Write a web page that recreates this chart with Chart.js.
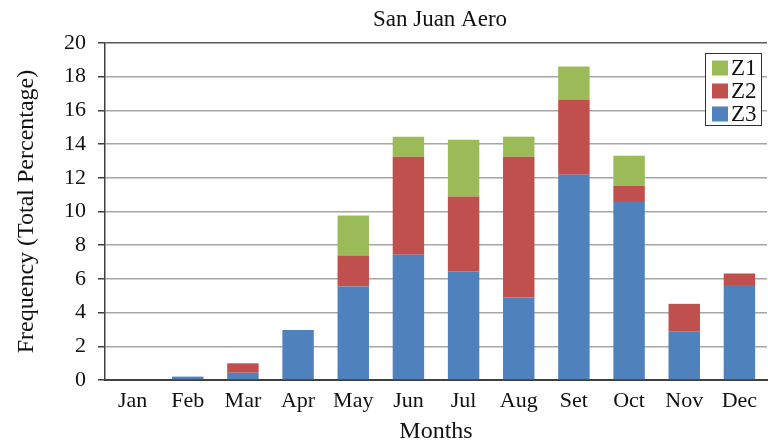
<!DOCTYPE html>
<html>
<head>
<meta charset="utf-8">
<script src="https://cdn.jsdelivr.net/npm/chart.js@4/dist/chart.umd.min.js"></script>
<style>
  html, body { margin: 0; padding: 0; background: #fff; }
  #wrap { width: 768px; height: 445px; }
</style>
</head>
<body>
<div id="wrap"><canvas id="myChart" width="768" height="445"></canvas></div>
<script>
var months = ["Jan","Feb","Mar","Apr","May","Jun","Jul","Aug","Set","Oct","Nov","Dec"];
var z3 = [0, 0.2, 0.43, 2.97, 5.55, 7.43, 6.46, 4.89, 12.18, 10.56, 2.89, 5.64];
var z2 = [0, 0, 0.56, 0, 1.84, 5.82, 4.43, 8.36, 4.46, 0.97, 1.63, 0.68];
var z1 = [0, 0, 0, 0, 2.37, 1.19, 3.37, 1.19, 1.96, 1.78, 0, 0];
var yTicks = [0, 2, 4, 6, 8, 10, 12, 14, 16, 18, 20];

var serif = "'Liberation Serif', 'DejaVu Serif', serif";

// title centred over the plot area, not the canvas
var titlePlugin = {
  id: "plotTitle",
  afterDraw: function (chart) {
    var ctx = chart.ctx, a = chart.chartArea;
    ctx.save();
    ctx.font = "23px " + serif;
    ctx.fillStyle = "#111";
    ctx.textAlign = "center";
    ctx.textBaseline = "middle";
    ctx.fillText("San Juan Aero", (a.left + a.right) / 2 + 4, 20);
    ctx.restore();
  }
};

// boxed legend inside the top right corner of the plot
var boxLegend = {
  id: "boxLegend",
  afterDraw: function (chart) {
    var ctx = chart.ctx, a = chart.chartArea;
    var sets = chart.data.datasets.slice().reverse();
    var w = 56, rowH = 23, h = sets.length * rowH + 3;
    var x = a.right - 6 - w, y = a.top + 10;
    ctx.save();
    ctx.fillStyle = "#fff";
    ctx.fillRect(x, y, w, h);
    ctx.strokeStyle = "#333";
    ctx.lineWidth = 1;
    ctx.strokeRect(x + 0.5, y + 0.5, w, h);
    ctx.font = "23px " + serif;
    ctx.textBaseline = "middle";
    sets.forEach(function (ds, i) {
      var cy = y + 15 + i * rowH;
      ctx.fillStyle = ds.backgroundColor;
      ctx.fillRect(x + 7, cy - 7.5, 16, 15);
      ctx.fillStyle = "#111";
      ctx.fillText(ds.label, x + 26, cy + 1);
    });
    ctx.restore();
  }
};

new Chart("myChart", {
  type: "bar",
  data: {
    labels: months,
    datasets: [
      { label: "Z3", data: z3, backgroundColor: "#4F81BD" },
      { label: "Z2", data: z2, backgroundColor: "#C0504D" },
      { label: "Z1", data: z1, backgroundColor: "#9BBB59" }
    ]
  },
  options: {
    responsive: false,
    animation: false,
    devicePixelRatio: 1,
    layout: { padding: { top: 43, right: 1, left: 0, bottom: 0 } },
    datasets: { bar: { categoryPercentage: 1, barPercentage: 0.57 } },
    plugins: {
      legend: { display: false },
      title: { display: false },
      tooltip: { enabled: false }
    },
    scales: {
      x: {
        stacked: true,
        grid: { display: false, drawTicks: false },
        border: { display: true, color: "#404040", width: 2 },
        ticks: { color: "#111", font: { family: serif, size: 22 }, padding: 8, maxRotation: 0, autoSkip: false },
        title: { display: true, text: "Months", color: "#111", font: { family: serif, size: 24, lineHeight: 1.1 }, padding: { top: 0, bottom: 0 } },
        afterFit: function (s) { s.height = 65; }
      },
      y: {
        stacked: true,
        min: 0,
        max: 20,
        afterBuildTicks: function (s) { s.ticks = yTicks.map(function (v) { return { value: v }; }); },
        grid: {
          color: function (c) { return c.tick && c.tick.value === 20 ? "#595959" : "#a6a6a6"; },
          lineWidth: 1.5,
          tickLength: 7,
          tickColor: "#404040"
        },
        border: { display: true, color: "#404040", width: 1.5 },
        ticks: { color: "#111", font: { family: serif, size: 22 }, padding: 12 },
        title: { display: true, text: "Frequency (Total Percentage)", color: "#111", font: { family: serif, size: 24, lineHeight: 1.1 }, padding: { top: 14, bottom: 0 } },
        afterFit: function (s) { s.width = 105; }
      }
    }
  },
  plugins: [titlePlugin, boxLegend]
});
</script>
</body>
</html>
